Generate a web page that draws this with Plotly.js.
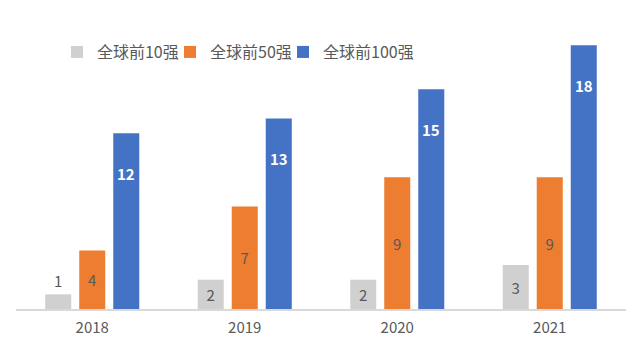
<!DOCTYPE html>
<html>
<head>
<meta charset="utf-8">
<script src="https://cdn.plot.ly/plotly-3.0.1.min.js"></script>
<style>html,body{margin:0;padding:0;background:#fff;}#chart{width:626px;height:351px;}</style>
</head>
<body>
<div id="chart"></div>
<script>
var years = ['2018', '2019', '2020', '2021'];
var seriesNames = ['全球前10强', '全球前50强', '全球前100强'];
var top10 = [1, 2, 2, 3];
var top50 = [4, 7, 9, 9];
var top100 = [12, 13, 15, 18];

var FONT = '"Noto Sans CJK SC", "Microsoft YaHei", sans-serif';
var TXT = '#595959';

var traces = [
  {type: 'bar', name: seriesNames[0], x: years, y: top10, legend: 'legend',
   marker: {color: '#D0D0D0'}, text: top10.map(String), textposition: 'auto',
   insidetextanchor: 'middle', textfont: {family: FONT, size: 15, color: TXT},
   cliponaxis: false, hoverinfo: 'none'},
  {type: 'bar', name: seriesNames[1], x: years, y: top50, legend: 'legend2',
   marker: {color: '#ED7D31'}, text: top50.map(String), textposition: 'inside',
   insidetextanchor: 'middle', textfont: {family: FONT, size: 15, color: TXT},
   hoverinfo: 'none'},
  {type: 'bar', name: seriesNames[2], x: years, y: top100, legend: 'legend3',
   marker: {color: '#4472C4'}, textposition: 'none', hoverinfo: 'none'}
];

var annotations = years.map(function (yr, i) {
  return {x: i, y: top100[i], xref: 'x', yref: 'y', xshift: 34, yshift: -40,
    text: '<b>' + top100[i] + '</b>', showarrow: false, yanchor: 'middle', xanchor: 'center',
    font: {family: FONT, size: 15, color: '#FFFFFF'}};
});

function legendAt(x) {
  return {orientation: 'h', x: x, xanchor: 'left', y: 0.877, yanchor: 'middle',
    font: {family: FONT, size: 16, color: TXT}, bgcolor: 'rgba(0,0,0,0)'};
}

var layout = {
  width: 626, height: 351,
  margin: {l: 16, r: 0, t: 16, b: 42},
  paper_bgcolor: '#FFFFFF', plot_bgcolor: '#FFFFFF',
  barmode: 'group', bargap: 0.331, bargroupgap: 0.235,
  font: {family: FONT, size: 15, color: TXT},
  showlegend: true,
  legend: legendAt(0.0672),
  legend2: legendAt(0.2525),
  legend3: legendAt(0.4377),
  xaxis: {type: 'category', range: [-0.5, 3.5], showgrid: false, showline: true, linecolor: '#D9D9D9', linewidth: 1.5,
    ticks: '', ticklabelstandoff: 4, tickfont: {family: FONT, size: 15, color: TXT}, fixedrange: true},
  yaxis: {range: [0, 20], showgrid: false, zeroline: false, showticklabels: false, ticks: '',
    showline: false, fixedrange: true},
  annotations: annotations
};

Plotly.newPlot('chart', traces, layout, {displayModeBar: false, staticPlot: true});
</script>
</body>
</html>
